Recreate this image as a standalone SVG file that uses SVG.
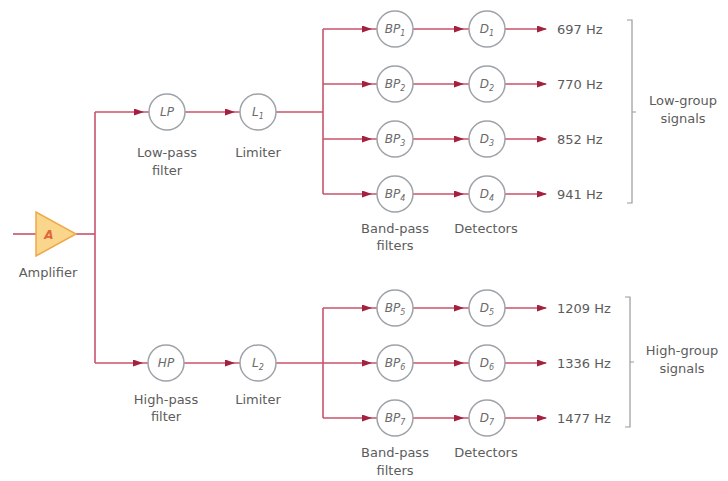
<svg xmlns="http://www.w3.org/2000/svg" width="728" height="481" viewBox="0 0 728 481">
<style>
.ln{fill:none;stroke:#c9536b;stroke-width:1.6}
.nd{fill:#fff;stroke:#9ea3a8;stroke-width:1.5}
.lb{font-family:"DejaVu Sans","Noto Sans",sans-serif;font-size:13px;fill:#5c5c5c;text-anchor:middle}
.fq{font-family:"DejaVu Sans","Noto Sans",sans-serif;font-size:13px;fill:#5c5c5c}
.nt{font-family:"DejaVu Sans","Noto Sans",sans-serif;font-size:12px;font-style:italic;fill:#6a6a6a;text-anchor:middle}
.sb{font-size:8px}
.br{fill:none;stroke:#9a9a9a;stroke-width:1.2}
</style>
<defs>
<marker id="ah" markerWidth="10" markerHeight="7" refX="9" refY="3.5" orient="auto" markerUnits="userSpaceOnUse">
<path d="M0,0 L10,3.5 L0,7 z" fill="#a3203f"/>
</marker>
</defs>
<rect width="728" height="481" fill="#fff"/>
<g id="connectors">
<path class="ln" d="M13,234 H36"/>
<path class="ln" d="M76,234 H95"/>
<path class="ln" d="M95,112 V363"/>
<path class="ln" d="M95,112 H143 H149" marker-mid="url(#ah)"/>
<path class="ln" d="M185,112 H234 H240" marker-mid="url(#ah)"/>
<path class="ln" d="M276,112 H323"/>
<path class="ln" d="M323,29 V194"/>
<path class="ln" d="M323,29 H371 H377" marker-mid="url(#ah)"/>
<path class="ln" d="M323,84 H371 H377" marker-mid="url(#ah)"/>
<path class="ln" d="M323,139 H371 H377" marker-mid="url(#ah)"/>
<path class="ln" d="M323,194 H371 H377" marker-mid="url(#ah)"/>
<path class="ln" d="M413,29 H463 H469" marker-mid="url(#ah)"/>
<path class="ln" d="M413,84 H463 H469" marker-mid="url(#ah)"/>
<path class="ln" d="M413,139 H463 H469" marker-mid="url(#ah)"/>
<path class="ln" d="M413,194 H463 H469" marker-mid="url(#ah)"/>
<path class="ln" d="M505,29 H546" marker-end="url(#ah)"/>
<path class="ln" d="M505,84 H546" marker-end="url(#ah)"/>
<path class="ln" d="M505,139 H546" marker-end="url(#ah)"/>
<path class="ln" d="M505,194 H546" marker-end="url(#ah)"/>
<path class="ln" d="M95,363 H142 H148" marker-mid="url(#ah)"/>
<path class="ln" d="M184,363 H234 H240" marker-mid="url(#ah)"/>
<path class="ln" d="M276,363 H323"/>
<path class="ln" d="M323,308 V418"/>
<path class="ln" d="M323,308 H371 H377" marker-mid="url(#ah)"/>
<path class="ln" d="M323,363 H371 H377" marker-mid="url(#ah)"/>
<path class="ln" d="M323,418 H371 H377" marker-mid="url(#ah)"/>
<path class="ln" d="M413,308 H463 H469" marker-mid="url(#ah)"/>
<path class="ln" d="M413,363 H463 H469" marker-mid="url(#ah)"/>
<path class="ln" d="M413,418 H463 H469" marker-mid="url(#ah)"/>
<path class="ln" d="M505,308 H546" marker-end="url(#ah)"/>
<path class="ln" d="M505,363 H546" marker-end="url(#ah)"/>
<path class="ln" d="M505,418 H546" marker-end="url(#ah)"/>
</g>
<g id="amplifier">
<polygon points="36,212 36,256 76,234" fill="#f9d68c" stroke="#eda94a" stroke-width="1.5"/>
<text x="49" y="239" font-family="DejaVu Sans,sans-serif" font-size="12" font-style="italic" font-weight="bold" fill="#e0663a" text-anchor="middle">A</text>
<text class="lb" x="48" y="277">Amplifier</text>
</g>
<g id="LP">
<circle class="nd" cx="167" cy="112" r="18"/>
<text class="nt" x="167" y="116">LP</text>
<text class="lb" x="167" y="157">Low-pass</text>
<text class="lb" x="167" y="175">filter</text>
</g>
<g id="L1">
<circle class="nd" cx="258" cy="112" r="18"/>
<text class="nt" x="258" y="116">L<tspan class="sb" dy="3">1</tspan></text>
<text class="lb" x="258" y="157">Limiter</text>
</g>
<g id="HP">
<circle class="nd" cx="166" cy="363" r="18"/>
<text class="nt" x="166" y="367">HP</text>
<text class="lb" x="166" y="404">High-pass</text>
<text class="lb" x="166" y="421">filter</text>
</g>
<g id="L2">
<circle class="nd" cx="258" cy="363" r="18"/>
<text class="nt" x="258" y="367">L<tspan class="sb" dy="3">2</tspan></text>
<text class="lb" x="258" y="404">Limiter</text>
</g>
<g id="BP1"><circle class="nd" cx="395" cy="29" r="18"/><text class="nt" x="395" y="33">BP<tspan class="sb" dy="3">1</tspan></text></g>
<g id="BP2"><circle class="nd" cx="395" cy="84" r="18"/><text class="nt" x="395" y="88">BP<tspan class="sb" dy="3">2</tspan></text></g>
<g id="BP3"><circle class="nd" cx="395" cy="139" r="18"/><text class="nt" x="395" y="143">BP<tspan class="sb" dy="3">3</tspan></text></g>
<g id="BP4"><circle class="nd" cx="395" cy="194" r="18"/><text class="nt" x="395" y="198">BP<tspan class="sb" dy="3">4</tspan></text></g>
<g id="BP5"><circle class="nd" cx="395" cy="308" r="18"/><text class="nt" x="395" y="312">BP<tspan class="sb" dy="3">5</tspan></text></g>
<g id="BP6"><circle class="nd" cx="395" cy="363" r="18"/><text class="nt" x="395" y="367">BP<tspan class="sb" dy="3">6</tspan></text></g>
<g id="BP7"><circle class="nd" cx="395" cy="418" r="18"/><text class="nt" x="395" y="422">BP<tspan class="sb" dy="3">7</tspan></text></g>
<g id="D1"><circle class="nd" cx="487" cy="29" r="18"/><text class="nt" x="487" y="33">D<tspan class="sb" dy="3">1</tspan></text></g>
<g id="D2"><circle class="nd" cx="487" cy="84" r="18"/><text class="nt" x="487" y="88">D<tspan class="sb" dy="3">2</tspan></text></g>
<g id="D3"><circle class="nd" cx="487" cy="139" r="18"/><text class="nt" x="487" y="143">D<tspan class="sb" dy="3">3</tspan></text></g>
<g id="D4"><circle class="nd" cx="487" cy="194" r="18"/><text class="nt" x="487" y="198">D<tspan class="sb" dy="3">4</tspan></text></g>
<g id="D5"><circle class="nd" cx="487" cy="308" r="18"/><text class="nt" x="487" y="312">D<tspan class="sb" dy="3">5</tspan></text></g>
<g id="D6"><circle class="nd" cx="487" cy="363" r="18"/><text class="nt" x="487" y="367">D<tspan class="sb" dy="3">6</tspan></text></g>
<g id="D7"><circle class="nd" cx="487" cy="418" r="18"/><text class="nt" x="487" y="422">D<tspan class="sb" dy="3">7</tspan></text></g>
<g id="labels-low">
<text class="lb" x="395" y="233">Band-pass</text>
<text class="lb" x="395" y="250">filters</text>
<text class="lb" x="486" y="233">Detectors</text>
</g>
<g id="labels-high">
<text class="lb" x="395" y="457">Band-pass</text>
<text class="lb" x="395" y="475">filters</text>
<text class="lb" x="486" y="457">Detectors</text>
</g>
<g id="freqs">
<text class="fq" x="557" y="34">697 Hz</text>
<text class="fq" x="557" y="89">770 Hz</text>
<text class="fq" x="557" y="144">852 Hz</text>
<text class="fq" x="557" y="199">941 Hz</text>
<text class="fq" x="557" y="313">1209 Hz</text>
<text class="fq" x="557" y="368">1336 Hz</text>
<text class="fq" x="557" y="423">1477 Hz</text>
</g>
<g id="low-group">
<path class="br" d="M627,20 H632 V203 H627 M632,112 H636"/>
<text class="lb" x="683" y="105">Low-group</text>
<text class="lb" x="683" y="123">signals</text>
</g>
<g id="high-group">
<path class="br" d="M625,297 H630 V427 H625 M630,362 H634"/>
<text class="lb" x="682" y="355">High-group</text>
<text class="lb" x="682" y="373">signals</text>
</g>
</svg>
